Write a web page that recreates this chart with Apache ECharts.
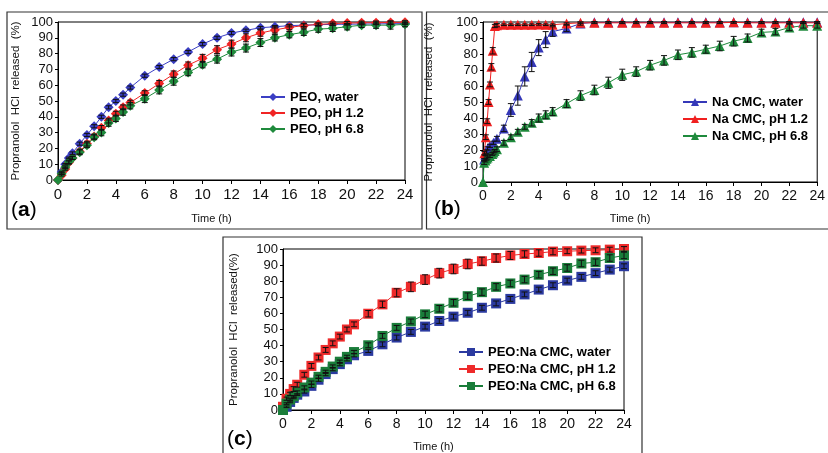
<!DOCTYPE html>
<html><head><meta charset="utf-8">
<script src="https://cdn.jsdelivr.net/npm/echarts@6/dist/echarts.min.js"></script>
<style>html,body{margin:0;padding:0;background:#fff}#c{width:828px;height:453px}</style>
</head><body><div id="c"></div>
<script>
// ---------- data ----------
const tA = [0,0.25,0.5,0.75,1,1.5,2,2.5,3,3.5,4,4.5,5,6,7,8,9,10,11,12,13,14,15,16,17,18,19,20,21,22,23,24];
const aWater = [0,5,10,14,17,23,28.5,34,40,46,50,54,58.5,66,71.5,76.5,81,86,90,93,94.7,96.4,97,97.7,98,98.3,98.5,98.6,98.7,98.8,98.9,99];
const aPh12  = [0,3,7,11,14,18,23,27.5,33,37.6,42,46,49,55,61,67,72.7,77,82.5,86,90,93,95,96.6,97.7,98.5,99,99.3,99.5,99.6,99.7,99.8];
const aPh68  = [0,4,8,11.5,14,17.5,22,27,30,36,39,43,47,51.5,57,62.5,68,73,76.5,81,83.5,87,90,92,93.5,95.5,96,97,98,98,98,98.5];
const aWaterErr = [0,0.5,0.5,0.5,0.8,1,1,1,1,1,1,1,1,1,1,1,1,1,1,1,0.8,0.8,0.8,0.8,0.8,0.5,0.5,0.5,0.5,0.5,0.5,0.5];
const aPh12Err  = [0,0.5,0.8,1,1,1.5,1.5,1.5,1.5,1.5,1.5,1.5,1.5,1.5,2,2,2,2.5,2.5,2.5,2.5,2,2,1.5,1.5,1,1,1,1,1,1,1];
const aPh68Err  = [0,0.5,0.8,1,1,1.5,1.5,1.5,2,2,2,2,2,2.5,2.5,2.5,2,2,2.5,2.5,2.5,2.5,2,2,2,2,2,2,1.5,2,2.5,1.5];

const tBWater = [0.08,0.17,0.25,0.33,0.5,0.75,1,1.5,2,2.5,3,3.5,4,4.5,5,6,7,8,9,10,11,12,13,14,15,16,17,18,19,20,21,22,23,24];
const bWater  = [14,17,19,21,22.6,24.5,27,33.5,45,54,66,75,84,89,94,96,99,99.8,99.8,99.8,99.8,99.8,99.8,99.8,99.8,99.8,99.8,99.8,99.8,99.8,99.8,99.8,99.8,99.8];
const bWaterErr = [0.5,0.5,1,1,1,1,1.5,2,4,6,6,6,5,5,3,2,1,0.5,0.5,0.5,0.5,0.5,0.5,0.5,0.5,0.5,0.5,0.5,0.5,0.5,0.5,0.5,0.5,0.5];
const tBPh12 = [0.1,0.2,0.3,0.4,0.5,0.6,0.7,0.85,1,1.5,2,2.5,3,3.5,4,4.5,5,6,7,8,9,10,11,12,13,14,15,16,17,18,19,20,21,22,23,24];
const bPh12  = [18,28,38,50,61,72,82,97.5,98,98.3,98.3,98.3,98.3,98.3,98.5,98.3,98.3,99,99.5,99.5,99.5,99.5,99.5,99.5,99.5,99.5,99.5,99.5,99.5,99.8,99.5,99.5,99.5,99.5,99.5,99.5];
const bPh12Err = [1,1.5,1.5,1.5,1.5,2,2,1,1,0.5,0.5,0.5,0.5,0.5,0.5,0.5,0.5,0.5,0.5,0.5,0.5,0.5,0.5,0.5,0.5,0.5,0.5,0.5,0.5,0.5,0.5,0.5,0.5,0.5,0.5,0.5];
const tBPh68 = [0,0.08,0.17,0.25,0.33,0.5,0.67,0.75,0.83,1,1.5,2,2.5,3,3.5,4,4.5,5,6,7,8,9,10,11,12,13,14,15,16,17,18,19,20,21,22,23,24];
const bPh68  = [0,12,13.5,14.6,15.3,16.3,17.5,18.4,19.3,20.5,24.5,28,31.4,34.5,37,40,42,44,49,54,57.5,62,67,69,73,76,79.5,81,83,85,88,90,93.5,94,96.6,97.7,97.7];
const bPh68Err = [0,1,1,1,1,1,1,1,1,1.5,1.5,1.5,1.5,1.5,2,2.5,2.5,2.5,2.5,3,3,3.5,3.5,3,3,3,3,3,2.5,3,3,2.5,2,2,2,1.5,1.5];

const tC = [0,0.25,0.5,0.75,1,1.5,2,2.5,3,3.5,4,4.5,5,6,7,8,9,10,11,12,13,14,15,16,17,18,19,20,21,22,23,24];
const cWater = [0,2,5,7.5,9.5,11.5,15,18.8,22.3,25.4,28.5,31.5,34,36.7,40.8,45,48.5,51.8,55.3,58,60.4,63.5,66.2,69,71.8,74.8,77.5,80.4,82.7,85,87.2,89.3];
const cPh12  = [2,7,10,13,15.7,21.9,27.4,32.6,37.3,41.4,45.6,50,53.2,59.8,65.6,72.8,76.5,81,85,87.6,90.7,92.4,94.4,96,96.9,97.5,98.4,98.6,99,99.2,99.6,100];
const cPh68  = [0,4,6.5,8.5,10.9,14,17,20.6,23.7,27,30,33,36,40.2,46,51,55,59.4,62.9,66.6,70.7,73.2,76.5,78.6,81,84,86.2,88.2,91,91.8,94.4,96];
const cWaterErr = [0,0.5,0.5,0.5,0.5,1,1,1,1,1,1,1,1,1,1.5,1.5,1.5,1.5,1.5,1.5,1.5,1.5,1.5,1.5,1.5,1.5,1.5,1.5,1.5,1.5,1.5,1.5];
const cPh12Err  = [0,1,1,1.5,1.5,1.5,1.5,1.5,1.5,1.5,1.5,1.5,1.5,2,2,2.5,3,3,3,3,3,2.5,2.5,2.5,2,2,2,1.5,1.5,1.5,1.5,1.5];
const cPh68Err  = [0,0.5,0.5,0.5,1,1,1,1,1,1,1,1,1,1.5,1.5,1.5,1.5,2,2,2,2,2,2,2,2,2,2,2,2,2,2,2];

const namesA = ['PEO, water','PEO, pH 1.2','PEO, pH 6.8'];
const namesB = ['Na CMC, water','Na CMC, pH 1.2','Na CMC, pH 6.8'];
const namesC = ['PEO:Na CMC, water','PEO:Na CMC, pH 1.2','PEO:Na CMC, pH 6.8'];
const xTicks = {min:0, max:24, interval:2};
const yTicks = {min:0, max:100, interval:10};

// ---------- build ----------
const FONT = 'Liberation Sans, Arial, sans-serif';
const chart = echarts.init(document.getElementById('c'), null, {renderer:'canvas'});

function zip(t, v, e){ return t.map((x,i)=>e ? [x, v[i], e[i]] : [x, v[i]]); }
function errRender(params, api){
  const x = api.value(0), y = api.value(1), e = api.value(2);
  if (!e) return null;
  const hi = api.coord([x, y + e]), lo = api.coord([x, y - e]);
  const w = 3;
  const st = {stroke:'#111', lineWidth:1};
  return {type:'group', children:[
    {type:'line', shape:{x1:hi[0],y1:hi[1],x2:lo[0],y2:lo[1]}, style:st},
    {type:'line', shape:{x1:hi[0]-w,y1:hi[1],x2:hi[0]+w,y2:hi[1]}, style:st},
    {type:'line', shape:{x1:lo[0]-w,y1:lo[1],x2:lo[0]+w,y2:lo[1]}, style:st}
  ]};
}
const series = [];
function addSeries(idx, name, t, v, e, color, symbol, size){
  series.push({type:'line', name, xAxisIndex:idx, yAxisIndex:idx, data:zip(t,v),
    symbol, symbolSize:size, color, lineStyle:{width:1, color}, itemStyle:{color},
    showSymbol:true, animation:false, z:3});
  series.push({type:'custom', name:name+' err', xAxisIndex:idx, yAxisIndex:idx,
    data:zip(t,v,e), renderItem:errRender, encode:{x:0,y:1}, animation:false, z:4, silent:true});
}
const blueA='#3b3fc4', redA='#f02424', greenA='#1f8a3c';
addSeries(0, namesA[0], tA, aWater, aWaterErr, blueA, 'diamond', 10);
addSeries(0, namesA[1], tA, aPh12, aPh12Err, redA, 'diamond', 10);
addSeries(0, namesA[2], tA, aPh68, aPh68Err, greenA, 'diamond', 10);
addSeries(1, namesB[0], tBWater, bWater, bWaterErr, '#3538b8', 'triangle', 10);
addSeries(1, namesB[1], tBPh12, bPh12, bPh12Err, '#f02020', 'triangle', 10);
addSeries(1, namesB[2], tBPh68, bPh68, bPh68Err, '#1f8a3c', 'triangle', 10);
addSeries(2, namesC[0], tC, cWater, cWaterErr, '#2b3aa0', 'rect', 10);
addSeries(2, namesC[1], tC, cPh12, cPh12Err, '#ee2a2a', 'rect', 10);
addSeries(2, namesC[2], tC, cPh68, cPh68Err, '#1a7d3a', 'rect', 10);

const grids = [
  {left:58, top:22, width:347, height:158},
  {left:483, top:22, width:340, height:160},
  {left:283, top:249, width:341, height:162}
];
const xLabelSize = [15, 14, 14];
const yNameGap = [36, 48, 43];
const xNameGap = [33, 31, 31];
const yNames = ['Propranolol  HCl  released  (%)','Propranolol  HCl  released  (%)','Propranolol  HCl  released(%)'];

const xAxis = grids.map((g,i)=>({type:'value', gridIndex:i, ...xTicks,
  axisLine:{show:true, onZero:false, lineStyle:{color:'#000', width:1}},
  axisTick:{show:true, inside:false, length:4, lineStyle:{color:'#000'}},
  axisLabel:{fontSize:xLabelSize[i], color:'#111', fontFamily:FONT, margin:7},
  splitLine:{show:false},
  name:'Time (h)', nameLocation:'middle', nameGap:xNameGap[i],
  nameTextStyle:{fontSize:11, color:'#111', fontFamily:FONT, padding:[0,40,0,0]}
}));
const yAxis = grids.map((g,i)=>({type:'value', gridIndex:i, ...yTicks,
  axisLine:{show:true, lineStyle:{color:'#000', width:1}},
  axisTick:{show:true, inside:false, length:3, lineStyle:{color:'#000'}},
  axisLabel:{fontSize:13, color:'#111', fontFamily:FONT, margin:5},
  splitLine:{show:false},
  name:yNames[i], nameLocation:'middle', nameGap:yNameGap[i],
  nameTextStyle:{fontSize:11.5, color:'#111', fontFamily:FONT}
}));

const legendBase = {orient:'vertical', itemWidth:24, itemHeight:10, itemGap:3,
  textStyle:{fontSize:13, fontWeight:'bold', color:'#000', fontFamily:FONT, lineHeight:14},
  selectedMode:false, padding:0};
const legends = [
  {...legendBase, data:namesA, left:260, top:90, itemGap:2},
  {...legendBase, data:namesB, left:682, top:95},
  {...legendBase, data:namesC, left:458, top:345}
];

function panelLabel(ch, x, y){
  return {type:'text', left:x, top:y, z:10, style:{
    text:'{n|(}{b|'+ch+'}{n|)}', rich:{n:{fontSize:21, fontFamily:FONT, fill:'#000'}, b:{fontSize:21, fontWeight:'bold', fontFamily:FONT, fill:'#000'}}}};
}
const frameStyle = {fill:'none', stroke:'#333', lineWidth:1.2};
const graphic = [
  {type:'rect', shape:{x:7, y:12, width:415, height:217}, style:frameStyle, silent:true},
  {type:'rect', shape:{x:426.5, y:12, width:410, height:217}, style:frameStyle, silent:true},
  {type:'rect', shape:{x:223, y:237, width:419, height:230}, style:frameStyle, silent:true},
  panelLabel('a', 11, 200),
  panelLabel('b', 434, 199),
  panelLabel('c', 227, 429)
];

chart.setOption({
  animation:false,
  backgroundColor:'#fff',
  textStyle:{fontFamily:FONT},
  grid: grids.map(g=>({...g, show:true, borderColor:'#000', borderWidth:1, backgroundColor:'transparent', containLabel:false})),
  xAxis, yAxis, legend: legends, series, graphic
});
</script></body></html>
